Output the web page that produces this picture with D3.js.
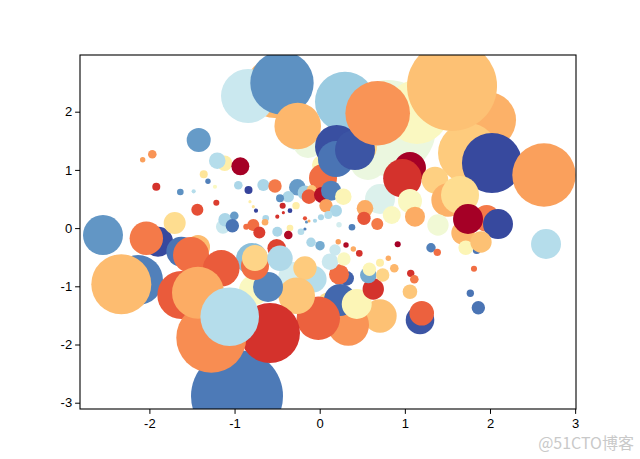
<!DOCTYPE html>
<html><head><meta charset="utf-8">
<script src="https://cdn.jsdelivr.net/npm/d3@7"></script>
<style>body{margin:0;background:#fff}svg{display:block}</style>
</head><body>
<script>
// scatter data: x, y, marker area (pt^2), colour value (0..1 on RdYlBu)
const xs = [-0.525,-0.842,-0.443,0.802,1.143,0.297,1.977,1.742,1.554,-0.255,-0.137,-0.258,0.027,0.039,0.567,0.200,0.473,0.191,0.415,0.681,2.023,2.634,0.708,1.060,0.972,1.354,1.507,1.648,1.060,1.119,1.389,1.961,1.683,1.742,2.094,1.844,1.715,1.894,2.658,1.307,1.381,1.812,1.069,1.111,1.060,1.769,1.863,1.178,1.198,0.708,0.336,0.121,0.238,0.435,0.629,0.571,0.583,0.740,0.708,0.806,0.876,0.916,0.317,0.227,0.121,0.285,0.180,0.218,0.309,0.395,0.465,-0.102,0.004,-0.971,-0.310,-0.075,-0.173,-0.016,-0.270,-0.772,-0.607,-0.795,-0.760,-0.760,-0.505,-0.466,-0.584,-1.899,-2.036,-2.545,-1.429,-1.625,-1.511,-1.156,-2.134,-2.330,-1.347,-1.625,-1.273,-1.429,-1.057,-1.421,-1.966,-2.079,-1.116,-1.203,-0.932,-1.362,-1.312,-1.230,-0.956,-0.836,-1.919,-1.637,-1.480,-1.214,-1.437,-1.703,-1.136,-1.112,-1.003,-1.026,-0.862,-0.662,-0.525,-0.263,-0.173,-0.094,-0.126,-0.369,-0.466,0.027,0.133,0.277,0.074,0.191,0.101,0.015,-0.055,0.227,0.379,-0.435,-0.278,-0.349,-0.819,-0.780,-0.748,-0.498,-0.427,-0.173,-0.155,-0.126,-0.634,-0.780,-0.642,-0.709,-0.498,-0.349,-0.369,-0.220,-0.173,0.846,0.532,0.520,0.676];
const ys = [2.407,2.270,2.493,1.720,1.995,2.172,1.857,1.290,2.442,1.686,1.462,1.754,1.084,0.861,1.136,1.399,1.399,1.187,1.342,1.973,1.119,0.912,0.500,1.033,0.856,0.826,0.483,0.569,0.466,0.196,0.053,0.168,-0.084,0.156,0.070,-0.376,-0.337,-0.239,-0.273,-0.337,-0.416,-0.698,-0.777,-0.880,-1.093,-1.120,-1.368,-1.579,-1.464,-1.510,-1.665,-1.338,-1.235,-1.304,-1.046,-0.806,-0.708,-0.806,-0.595,-0.519,-0.691,-0.278,-0.863,-0.794,-0.577,-0.531,-0.376,-0.234,-0.290,-0.359,-0.433,-0.244,-0.302,-2.885,-0.840,-0.875,-0.686,-1.550,-1.162,-1.064,-1.012,-0.531,-0.651,-0.514,-0.347,-0.519,-1.802,-0.234,-0.175,-0.119,-0.325,-0.405,-0.462,-0.691,-0.892,-0.966,-1.442,-1.149,-1.883,-1.110,-1.522,1.514,1.268,1.175,1.113,1.158,1.062,0.924,0.804,0.711,0.735,0.655,0.711,0.620,0.632,0.436,0.316,0.088,0.024,0.144,0.213,0.041,0.024,0.741,0.723,0.701,0.608,0.655,0.540,0.540,0.512,0.569,0.643,0.540,0.385,0.299,0.225,0.186,0.127,0.058,0.014,0.385,0.385,0.299,0.454,0.368,0.299,0.196,0.265,0.168,0.105,0.122,0.168,0.053,0.100,-0.076,-0.062,0.002,-0.119,-0.062,-0.015,0.225,0.340,0.168,0.070];
const sizes = [1466,1187,1637,3752,1668,1466,1277,1466,3298,651,366,884,163,319,528,767,471,528,651,1699,1466,1637,366,417,607,288,454,588,235,163,186,288,223,366,366,26,87,186,366,36,22,15,22,30,87,22,73,333,246,454,698,319,417,366,186,112,73,73,26,12,30,15,87,163,112,73,53,12,12,12,18,36,36,3446,366,288,223,767,545,366,366,417,319,275,141,263,1466,366,454,651,235,366,528,545,1018,1466,788,938,1995,1101,1398,235,30,12,97,112,132,26,12,7,30,26,26,18,7,15,59,197,80,73,30,73,15,59,73,112,87,41,87,53,26,104,163,112,73,59,26,15,7,12,18,15,22,9,4,4,7,7,4,7,4,4,18,59,18,59,41,18,30,18,4,132,112,73,59];
const colorVals = [0.32,0.64,0.85,0.56,0.50,0.73,0.31,0.36,0.34,0.66,0.56,0.32,0.48,0.20,0.56,0.96,0.38,0.90,0.95,0.26,0.97,0.28,0.60,0.00,0.10,0.37,0.31,0.40,0.50,0.30,0.54,0.22,0.32,0.00,0.97,0.90,0.48,0.34,0.68,0.88,0.20,0.20,0.10,0.22,0.35,0.90,0.90,0.95,0.18,0.34,0.26,0.40,0.92,0.48,0.10,0.80,0.48,0.38,0.45,0.30,0.32,0.00,0.93,0.20,0.64,0.50,0.64,0.28,0.02,0.30,0.10,0.70,0.80,0.89,0.62,0.68,0.36,0.18,0.35,0.50,0.87,0.76,0.20,0.38,0.13,0.69,0.10,0.97,0.22,0.84,0.33,0.90,0.20,0.17,0.88,0.33,0.08,0.17,0.25,0.30,0.68,0.83,0.26,0.28,0.45,0.68,0.00,0.42,0.88,0.50,0.70,0.98,0.10,0.85,0.68,0.12,0.15,0.40,0.64,0.70,0.83,0.90,0.20,0.70,0.22,0.83,0.72,0.35,0.17,0.70,0.85,0.03,0.88,0.48,0.28,0.70,0.68,0.70,0.70,0.62,0.88,0.08,0.45,0.98,0.45,0.42,0.98,0.10,0.10,0.15,0.85,0.30,0.70,0.20,0.30,0.12,0.70,0.45,0.02,0.68,0.88,0.50,0.30,0.16,0.22];
const xTicks = [-2, -1, 0, 1, 2, 3];
const yTicks = [-3, -2, -1, 0, 1, 2];
const xDomain = [-2.815, 3.01];
const yDomain = [-3.108, 2.974];

const W = 640, H = 459;
const L = 80, R = 576, T = 55, B = 409;
const svg = d3.select("body").append("svg").attr("width", W).attr("height", H);

const x = d3.scaleLinear().domain(xDomain).range([L, R]);
const y = d3.scaleLinear().domain(yDomain).range([B, T]);
// marker area in pt^2 -> radius in px (100 dpi)
const r = d3.scaleSqrt().domain([0, 1]).range([0, Math.sqrt(1 / Math.PI) * 100 / 72]);
const color = d3.interpolateRdYlBu;

svg.append("defs").append("clipPath").attr("id", "clip")
  .append("rect").attr("x", L).attr("y", T).attr("width", R - L).attr("height", B - T);

const pts = xs.map((d, i) => ({x: d, y: ys[i], s: sizes[i], c: colorVals[i]}));
svg.append("g").attr("clip-path", "url(#clip)")
  .selectAll("circle").data(pts).join("circle")
  .attr("cx", d => x(d.x)).attr("cy", d => y(d.y)).attr("r", d => r(d.s))
  .attr("fill", d => color(d.c));

const font = "'Liberation Sans', Arial, sans-serif";
const xAxis = svg.append("g").attr("transform", `translate(0,${B})`)
  .call(d3.axisBottom(x).tickValues(xTicks).tickFormat(d => String(d)).tickSize(4.9).tickSizeOuter(0).tickPadding(5));
const yAxis = svg.append("g").attr("transform", `translate(${L},0)`)
  .call(d3.axisLeft(y).tickValues(yTicks).tickFormat(d => String(d)).tickSize(4.9).tickSizeOuter(0).tickPadding(3));
[xAxis, yAxis].forEach(g => {
  g.select(".domain").remove();
  g.selectAll(".tick line").attr("stroke", "#000").attr("stroke-width", 1);
  g.selectAll(".tick text").attr("fill", "#000").style("font-family", font).style("font-size", "13px");
});

svg.append("rect").attr("x", L).attr("y", T).attr("width", R - L).attr("height", B - T)
  .attr("fill", "none").attr("stroke", "#000").attr("stroke-width", 1.1);

svg.append("text").attr("x", 634).attr("y", 449).attr("text-anchor", "end")
  .style("font-family", "'Noto Sans CJK SC', sans-serif").style("font-size", "16px")
  .attr("fill", "#c9c9c9").text("@51CTO博客");
</script>
</body></html>
